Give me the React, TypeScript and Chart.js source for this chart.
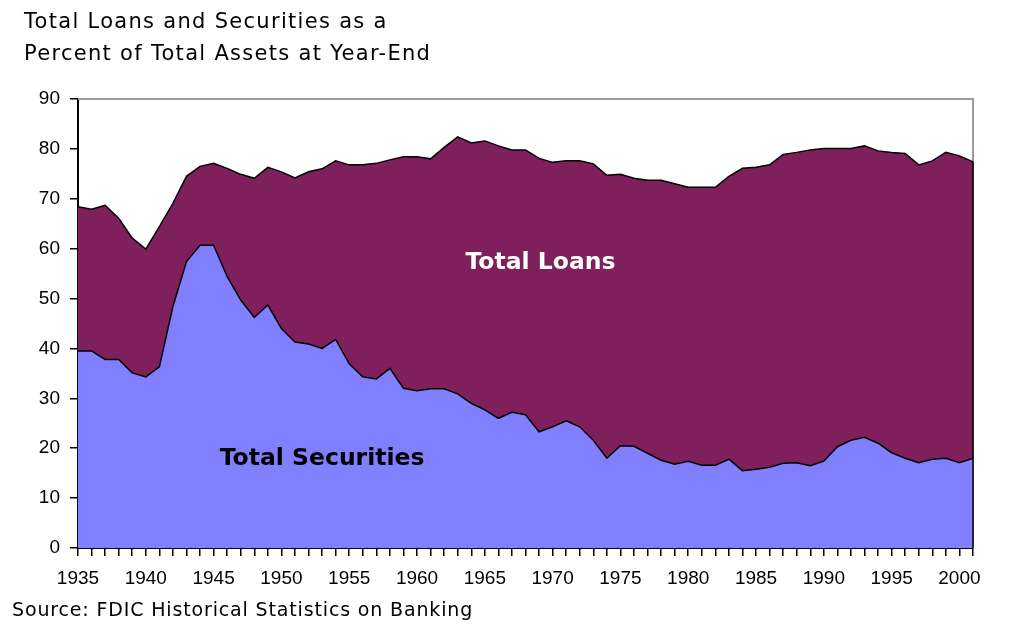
import React, { useEffect, useRef } from 'react';
import { Chart, registerables } from 'chart.js';
Chart.register(...registerables);

const years = [
  '1935','1936','1937','1938','1939','1940','1941','1942','1943','1944',
  '1945','1946','1947','1948','1949','1950','1951','1952','1953','1954',
  '1955','1956','1957','1958','1959','1960','1961','1962','1963','1964',
  '1965','1966','1967','1968','1969','1970','1971','1972','1973','1974',
  '1975','1976','1977','1978','1979','1980','1981','1982','1983','1984',
  '1985','1986','1987','1988','1989','1990','1991','1992','1993','1994',
  '1995','1996','1997','1998','1999','2000','2001',
];

const securities = [
  39.5, 39.5, 37.8, 37.8, 35.1, 34.3, 36.3, 48.4, 57.4, 60.7,
  60.7, 54.4, 49.7, 46.2, 48.7, 44.0, 41.3, 40.9, 40.0, 41.8,
  36.9, 34.3, 33.9, 36.0, 32.0, 31.5, 31.9, 31.9, 30.9, 29.0,
  27.7, 26.0, 27.2, 26.7, 23.3, 24.3, 25.5, 24.3, 21.6, 18.0,
  20.5, 20.4, 19.0, 17.6, 16.8, 17.4, 16.6, 16.6, 17.8, 15.5,
  15.8, 16.2, 17.0, 17.1, 16.5, 17.4, 20.3, 21.6, 22.2, 21.0,
  19.1, 18.0, 17.1, 17.8, 18.0, 17.1, 18.0,
];

const loans = [
  28.9, 28.4, 30.9, 28.3, 27.0, 25.6, 28.1, 20.7, 17.1, 15.8,
  16.4, 21.7, 25.2, 27.9, 27.6, 31.4, 32.9, 34.5, 36.0, 35.8,
  39.9, 42.5, 43.2, 41.8, 46.4, 46.9, 46.1, 48.4, 51.5, 52.2,
  53.9, 54.6, 52.6, 53.1, 54.8, 53.0, 52.1, 53.3, 55.4, 56.7,
  54.4, 53.7, 54.7, 56.1, 56.2, 54.9, 55.7, 55.7, 56.7, 60.6,
  60.5, 60.6, 61.9, 62.2, 63.3, 62.7, 59.8, 58.5, 58.4, 58.6,
  60.2, 61.1, 59.7, 59.8, 61.3, 61.5, 59.4,
];

const yTicks = [0, 10, 20, 30, 40, 50, 60, 70, 80, 90];

const titleLines = ['Total Loans and Securities as a', 'Percent of Total Assets at Year-End'];
const sourceText = 'Source: FDIC Historical Statistics on Banking';
const loansLabel = 'Total Loans';
const securitiesLabel = 'Total Securities';

const FONT = '"Liberation Sans", Arial, sans-serif';
const WIDE = '"DejaVu Sans", Verdana, sans-serif';

const framePlugin = {
  id: 'frame',
  beforeDatasetsDraw(chart: any) {
    const { ctx, chartArea } = chart;
    ctx.save();
    ctx.strokeStyle = '#9a9a9a';
    ctx.lineWidth = 2;
    ctx.beginPath();
    ctx.moveTo(chartArea.left, chartArea.top);
    ctx.lineTo(chartArea.right, chartArea.top);
    ctx.lineTo(chartArea.right, chartArea.bottom);
    ctx.stroke();
    ctx.restore();
  },
  afterDatasetsDraw(chart: any) {
    const { ctx, chartArea, scales } = chart;
    const meta = chart.getDatasetMeta(1);
    const last = meta.data[meta.data.length - 1];
    ctx.save();
    ctx.strokeStyle = '#000';
    ctx.lineWidth = 1.5;
    ctx.beginPath();
    ctx.moveTo(chartArea.right, last.y);
    ctx.lineTo(chartArea.right, chartArea.bottom);
    ctx.stroke();

    ctx.textAlign = 'center';
    ctx.textBaseline = 'middle';
    ctx.font = `bold 23.5px ${WIDE}`;
    ctx.fillStyle = '#ffffff';
    ctx.fillText(loansLabel, scales.x.getPixelForValue(34.1), scales.y.getPixelForValue(57.2));
    ctx.fillStyle = '#000000';
    ctx.fillText(securitiesLabel, scales.x.getPixelForValue(18), scales.y.getPixelForValue(17.8));
    ctx.restore();
  },
};

export default function App() {
  const ref = useRef<HTMLCanvasElement>(null);
  useEffect(() => {
    if (!ref.current) return;
    const chart = new Chart(ref.current, {
      type: 'line',
      data: {
        labels: years,
        datasets: [
          {
            label: securitiesLabel,
            data: securities,
            fill: 'origin',
            backgroundColor: '#8080ff',
            borderColor: '#000000',
            borderWidth: 1.5,
            pointRadius: 0,
            tension: 0,
          },
          {
            label: loansLabel,
            data: loans,
            fill: '-1',
            backgroundColor: '#7f1f5c',
            borderColor: '#000000',
            borderWidth: 1.5,
            pointRadius: 0,
            tension: 0,
          },
        ],
      },
      options: {
        animation: false,
        responsive: false,
        maintainAspectRatio: false,
        layout: { padding: { left: 0, top: 99, right: 36, bottom: 0 } },
        plugins: {
          legend: { display: false },
          tooltip: { enabled: false },
          title: { display: false },
        },
        scales: {
          x: {
            type: 'category',
            offset: false,
            grid: { display: true, drawOnChartArea: false, drawTicks: true, tickLength: 8, color: '#000', lineWidth: 1.5 },
            border: { display: true, color: '#000', width: 2 },
            ticks: {
              autoSkip: false,
              maxRotation: 0,
              minRotation: 0,
              padding: 11,
              color: '#000',
              font: { family: FONT, size: 19 },
              callback: (_v: any, i: number) => (Number(years[i]) % 5 === 0 ? years[i] : ''),
            },
            afterFit: (s: any) => { s.height = 83; },
          },
          y: {
            stacked: true,
            min: 0,
            max: 90,
            afterBuildTicks: (s: any) => { s.ticks = yTicks.map((v) => ({ value: v })); },
            grid: { display: true, drawOnChartArea: false, drawTicks: true, tickLength: 8, color: '#000', lineWidth: 1.5 },
            border: { display: true, color: '#000', width: 2 },
            ticks: {
              padding: 10,
              color: '#000',
              font: { family: FONT, size: 19 },
            },
            afterFit: (s: any) => { s.width = 78; },
          },
        },
      },
      plugins: [framePlugin],
    });
    return () => chart.destroy();
  }, []);

  return (
    <div style={{ position: 'fixed', left: 0, top: 0, width: 1009, height: 631, background: '#fff' }}>
      <canvas ref={ref} width={1009} height={631} style={{ position: 'absolute', left: 0, top: 0 }} />
      <div style={{ position: 'absolute', left: 24, top: 5, fontFamily: WIDE, fontSize: 21, letterSpacing: '1.3px', lineHeight: '32px', color: '#000', whiteSpace: 'nowrap' }}>
        {titleLines.map((t) => (
          <div key={t}>{t}</div>
        ))}
      </div>
      <div style={{ position: 'absolute', left: 12, top: 597, fontFamily: WIDE, fontSize: 19, letterSpacing: '0.85px', lineHeight: '24px', color: '#000', whiteSpace: 'nowrap' }}>
        {sourceText}
      </div>
    </div>
  );
}
